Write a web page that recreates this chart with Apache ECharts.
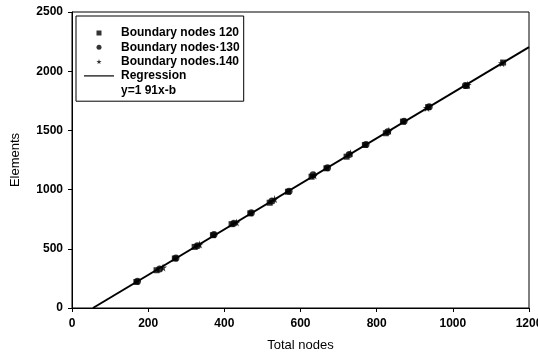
<!DOCTYPE html>
<html>
<head>
<meta charset="utf-8">
<script src="https://cdn.jsdelivr.net/npm/echarts@6/dist/echarts.min.js"></script>
<style>
  html, body { margin: 0; padding: 0; background: #fff; }
  #chart { width: 538px; height: 356px; }
</style>
</head>
<body>
<div id="chart"></div>
<script>
// values: [total nodes, elements]
const nodes120 = [[169,220],[222,319],[270,418],[322,516],[370,615],[419,708],[468,799],[519,889],[567,982],[629,1109],[668,1180],[721,1278],[769,1377],[824,1476],[869,1574],[935,1696],[1036,1876],[1132,2073]]
const nodes130 = [[172,225],[230,330],[273,422],[329,526],[373,620],[425,716],[471,804],[525,904],[570,986],[633,1126],[671,1185],[728,1296],[772,1381],[829,1488],[872,1578],[938,1700],[1033,1880]]
const nodes140 = [[239,342],[335,536],[432,723],[532,920],[636,1120],[731,1307],[832,1498],[932,1690],[1039,1885],[1129,2068]]
const regression = [[55,0],[1200,2204]]

const xTicks = { min: 0, max: 1200, interval: 200 }
const yTicks = { min: 0, max: 2500, interval: 500 }

const STAR = 'path://M50,0L61,35L98,35L68,57L79,91L50,70L21,91L32,57L2,35L39,35Z'
const SQUARE = 'path://M0,0H10V10H0Z'
const FONT = '"Liberation Sans", Arial, sans-serif'

const chart = echarts.init(document.getElementById('chart'))
chart.setOption({
  animation: false,
  textStyle: { fontFamily: FONT, color: '#000' },
  grid: {
    left: 72, right: 9, top: 12, bottom: 48,
    outerBoundsMode: 'none', containLabel: false,
    show: true, borderColor: '#000', borderWidth: 1,
  },
  legend: {
    left: 76, top: 16, orient: 'vertical',
    padding: [11, 4, 5, 8],
    itemGap: 2.3, itemWidth: 30, itemHeight: 5,
    borderColor: '#000', borderWidth: 1,
    textStyle: { fontFamily: FONT, fontSize: 12, fontWeight: 'bold', color: '#000', padding: [0, 0, 0, 2] },
    data: [
      { name: 'Boundary nodes 120', icon: SQUARE, itemStyle: { color: '#000' } },
      { name: 'Boundary nodes·130', icon: 'circle', itemStyle: { color: '#000' } },
      { name: 'Boundary nodes.140', icon: STAR, itemStyle: { color: '#000' } },
      { name: 'Regression', icon: 'path://M0,0H30V1.2H0Z', itemStyle: { color: '#000' } },
      { name: 'y=1 91x-b', icon: 'none' },
    ],
    selectedMode: false,
  },
  xAxis: {
    type: 'value', ...xTicks,
    name: 'Total nodes', nameLocation: 'middle', nameGap: 31, nameMoveOverlap: false,
    nameTextStyle: { fontFamily: FONT, fontSize: 13, color: '#000' },
    axisLine: { lineStyle: { color: '#000', width: 1 } },
    axisTick: { length: 4, lineStyle: { color: '#000' } },
    axisLabel: { fontFamily: FONT, fontSize: 12, fontWeight: 'bold', color: '#000', margin: 10, formatter: v => String(v) },
    splitLine: { show: false },
  },
  yAxis: {
    type: 'value', ...yTicks,
    name: 'Elements', nameLocation: 'middle', nameGap: 50, nameMoveOverlap: false,
    nameTextStyle: { fontFamily: FONT, fontSize: 13, color: '#000' },
    axisLine: { show: true, lineStyle: { color: '#000', width: 1 } },
    axisTick: { show: true, length: 4, lineStyle: { color: '#000' } },
    axisLabel: { fontFamily: FONT, fontSize: 12, fontWeight: 'bold', color: '#000', margin: 9, formatter: v => String(v) },
    splitLine: { show: false },
  },
  series: [
    {
      type: 'line', name: 'Regression', data: regression,
      symbol: 'none', lineStyle: { color: '#000', width: 2 }, z: 1,
    },
    { type: 'line', name: 'y=1 91x-b', data: [], symbol: 'none', lineStyle: { color: '#000' } },
    {
      type: 'scatter', name: 'Boundary nodes 120', data: nodes120,
      symbol: 'rect', symbolSize: 6, itemStyle: { color: '#000' }, z: 3,
    },
    {
      type: 'scatter', name: 'Boundary nodes·130', data: nodes130,
      symbol: 'circle', symbolSize: 7, itemStyle: { color: '#000' }, z: 3,
    },
    {
      type: 'scatter', name: 'Boundary nodes.140', data: nodes140,
      symbol: STAR, symbolSize: 8, itemStyle: { color: '#000' }, z: 3,
    },
  ],
})
</script>
</body>
</html>
